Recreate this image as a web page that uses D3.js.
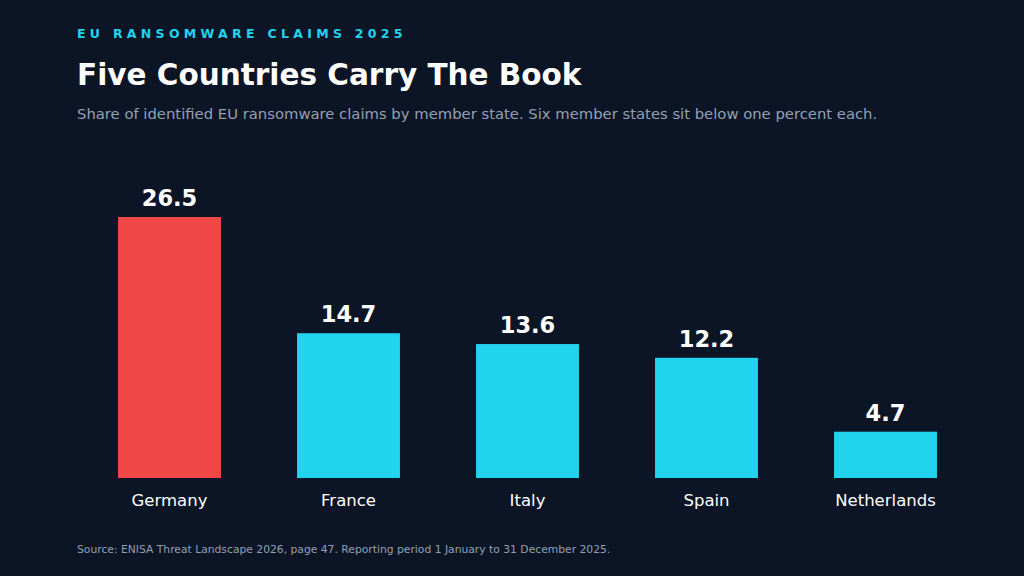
<!DOCTYPE html>
<html><head><meta charset="utf-8">
<script src="https://cdn.jsdelivr.net/npm/d3@7"></script>
<style>body{margin:0;background:#0b1526;}svg{display:block;font-family:"DejaVu Sans",sans-serif;}</style>
</head><body><svg id="c" width="1024" height="576"></svg>
<script>
const categories = ["Germany","France","Italy","Spain","Netherlands"];
const values = [26.5,14.7,13.6,12.2,4.7];
const highlight = "Germany";

const svg = d3.select("#c");
svg.append("rect").attr("width",1024).attr("height",576).attr("fill","#0b1526");
svg.append("text").attr("x",77).attr("y",38).attr("fill","#22d3ee").attr("font-size",12.5).attr("font-weight","bold").attr("letter-spacing","4.3px").text("EU RANSOMWARE CLAIMS 2025");
svg.append("text").attr("x",77).attr("y",85).attr("fill","#ffffff").attr("font-size",29.5).attr("font-weight","bold").text("Five Countries Carry The Book");
svg.append("text").attr("x",77).attr("y",119).attr("fill","#94a0b2").attr("font-size",14.8).text("Share of identified EU ransomware claims by member state. Six member states sit below one percent each.");
svg.append("text").attr("x",77).attr("y",553).attr("fill","#94a0b2").attr("font-size",10.75).text("Source: ENISA Threat Landscape 2026, page 47. Reporting period 1 January to 31 December 2025.");

const x = d3.scaleBand().domain(categories).range([80,975]).paddingInner(0.425).paddingOuter(0.2125);
const y = d3.scaleLinear().domain([0,26.5]).range([478,217]);
const data = categories.map((c,i)=>({c,v:values[i]}));
svg.selectAll("rect.bar").data(data).join("rect").attr("class","bar")
 .attr("x",d=>x(d.c)).attr("width",x.bandwidth()).attr("y",d=>y(d.v)).attr("height",d=>y(0)-y(d.v))
 .attr("fill",d=>d.c===highlight?"#f04646":"#22d3ee");
svg.selectAll("text.val").data(data).join("text").attr("class","val")
 .attr("x",d=>x(d.c)+x.bandwidth()/2).attr("y",d=>y(d.v)-11).attr("text-anchor","middle")
 .attr("fill","#fff").attr("font-size",22.5).attr("font-weight","bold").text(d=>d.v.toFixed(1));
const ax = svg.append("g").attr("transform","translate(0,478)").call(d3.axisBottom(x).tickSize(0).tickPadding(16));
ax.select(".domain").remove();
ax.selectAll("text").attr("fill","#fff").attr("font-size",16.5).attr("font-family","DejaVu Sans, sans-serif");
</script></body></html>
